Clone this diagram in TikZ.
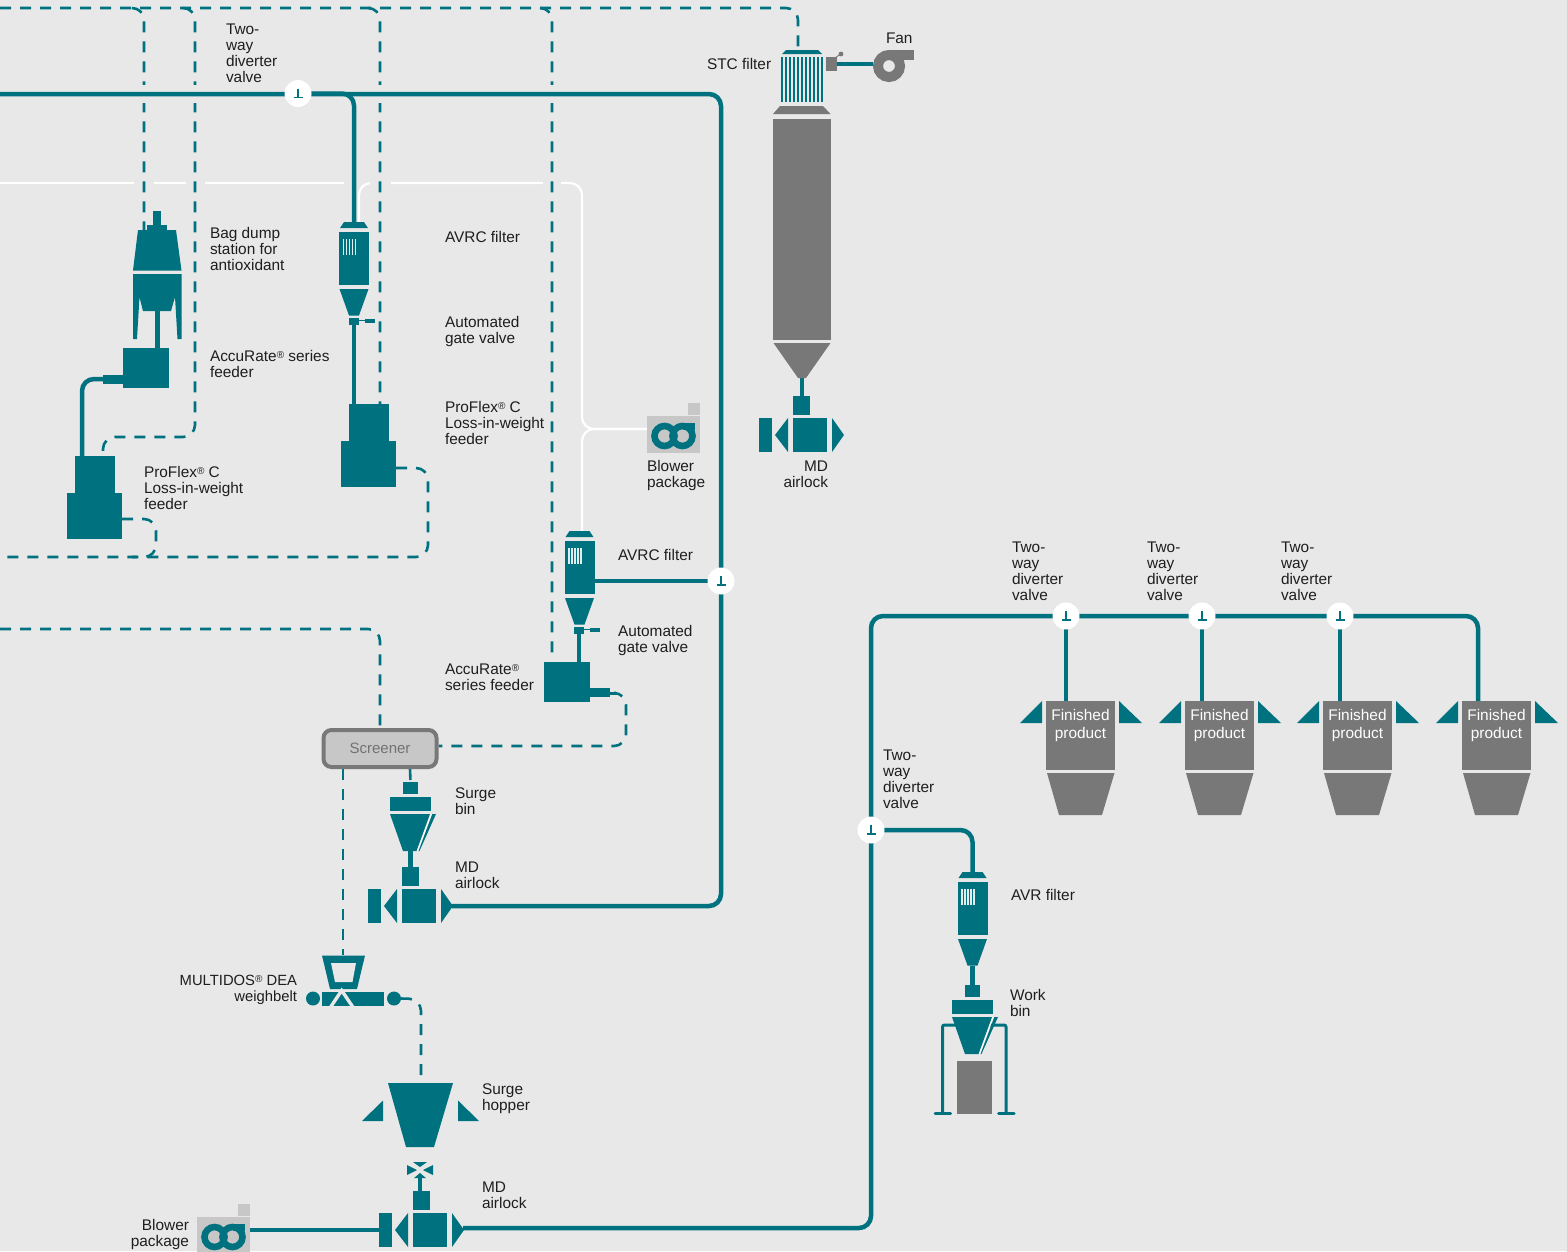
\documentclass[tikz,border=0pt]{standalone}
\usepackage{fontspec}
\setmainfont{Liberation Sans}
\usetikzlibrary{calc}
\definecolor{bgc}{HTML}{E8E8E8}
\definecolor{tealc}{HTML}{00727F}
\definecolor{grayc}{HTML}{787878}
\definecolor{lightg}{HTML}{C6C7C6}
\definecolor{textc}{HTML}{1E1E1E}
\pgfdeclarelayer{lines}
\pgfsetlayers{lines,main}
\newcommand{\regm}{\smash{\raisebox{3pt}{\fontsize{10pt}{10pt}\selectfont ®}}}
\tikzset{
  tealbox/.style={fill=tealc,inner sep=0pt,outer sep=0pt,draw=none},
  graybox/.style={fill=grayc,inner sep=0pt,outer sep=0pt,draw=none},
  lab/.style={inner sep=0pt,outer sep=0pt,align=left,anchor=north west,yshift=5.5pt,text=textc,
    font=\fontsize{15.4pt}{16pt}\selectfont,execute at begin node=\strut},
  labr/.style={lab,align=right,anchor=north east},
  mainline/.style={draw=tealc,line width=4.5pt,rounded corners=12pt},
  stemline/.style={draw=tealc,line width=4.5pt},
  dashline/.style={draw=tealc,line width=2.6pt,dash pattern=on 11pt off 9pt,rounded corners=12pt},
  whiteline/.style={draw=white,line width=2.2pt,rounded corners=12pt},
  avrc/.pic={
    \fill[tealc] (-10,0) -- (10,0) -- (14,6) -- (-14,6) -- cycle;
    \fill[tealc] (-15,10) rectangle (15,63);
    \foreach \i in {0,...,4} \draw[white!88!tealc,line width=1.4pt] ({-10.5+\i*3},17) -- ({-10.5+\i*3},33);
    \fill[tealc] (-14.5,67) -- (14.5,67) -- (5,93.5) -- (-5,93.5) -- cycle;
    \coordinate (-top) at (0,0);
    \coordinate (-bottom) at (0,93.5);
    \coordinate (-east) at (15,59);
  },
  gatevalve/.pic={
    \fill[tealc] (-5,0) rectangle (5,7);
    \draw[tealc,line width=1.2pt] (5,2.5) -- (12,2.5);
    \fill[tealc] (11,0.7) rectangle (21,5);
    \coordinate (-bottom) at (0,7);
  },
  airlock/.pic={
    \fill[tealc] (-17,0) rectangle (17,34);
    \fill[tealc] (-17,-22) rectangle (0,-3);
    \fill[tealc] (-22,0) -- (-35,17) -- (-22,34) -- cycle;
    \fill[tealc] (-51,0) rectangle (-38,34);
    \fill[tealc] (22,0) -- (34,17) -- (22,34) -- cycle;
    \coordinate (-top) at (-8.5,-22);
    \coordinate (-east) at (33,17);
    \coordinate (-west) at (-51,17);
  },
  surgebin/.pic={
    \fill[tealc] (-7.5,0) rectangle (7.5,12);
    \fill[tealc] (-20.5,15) rectangle (20.5,29);
    \fill[tealc] (-20.5,32) -- (19.5,32) -- (6,69) -- (-7.5,69) -- cycle;
    \draw[white,line width=1pt] (20.7,32) -- (7,69);
    \fill[tealc] (21.8,32) -- (25.5,32) -- (9,69) -- (8,69) -- cycle;
    \coordinate (-top) at (0,0);
    \coordinate (-bottom) at (0,69);
  },
  finished/.pic={
    \fill[grayc] (0,0) rectangle (69,69);
    \fill[grayc] (1,72) -- (68.5,72) -- (56,114) -- (13,114) -- cycle;
    \fill[tealc] (-26,22) -- (-4,22) -- (-4,0) -- cycle;
    \fill[tealc] (73,0) -- (73,22) -- (96,22) -- cycle;
    \node[lab,anchor=north,align=center,text=white,font=\fontsize{15.4pt}{18pt}\selectfont] (-label) at (34.5,14) {Finished\\product};
    \coordinate (-top) at (20,0);
  },
  blower/.pic={
    \fill[lightg] (0,0) rectangle (53,37);
    \fill[lightg] (41,-13) rectangle (53,-1);
    \draw[tealc,line width=6.6pt] (17.5,20) circle (10);
    \draw[tealc,line width=6.6pt] (35.5,20) circle (10);
    \fill[tealc] (36,6.5) rectangle (48,14);
    \coordinate (-west) at (0,13);
    \coordinate (-east) at (53,14);
  },
  divert/.pic={
    \node[circle,fill=white,inner sep=0pt,outer sep=0pt,minimum size=27pt] (-c) at (0,0) {};
    \draw[tealc,line width=1.8pt] (-4.5,4) -- (4.5,4);
    \draw[tealc,line width=1.8pt] (0,-5) -- (0,4);
  },
}
\begin{document}
\begin{tikzpicture}[x=1pt,y=-1pt]
\useasboundingbox (0,0) rectangle (1567,1251);

% ---------- equipment ----------
% bag dump
\node[tealbox,minimum width=46pt,minimum height=40pt] (feederA) at (146,368) {};
\fill[tealc] (153,211) rectangle (161,226);
\fill[tealc] (147,225) rectangle (167,231);
\fill[tealc] (138,230) -- (176,230) -- (181.5,270.5) -- (133,270.5) -- cycle;
\fill[tealc] (133,274) -- (181.5,274) -- (181.5,339) -- (177.5,339) -- (175,297) -- (171,311) -- (143,311) -- (139.5,297) -- (137,339) -- (133,339) -- cycle;
\coordinate (dumpbottom) at (157.5,311);
\coordinate (dumptop) at (144,230);
\fill[tealc] (103,375) rectangle (123,383.5);
\coordinate (feederAstub) at (104,379);

% left ProFlex feeder
\node[tealbox,minimum width=40pt,minimum height=38pt] (pfAtop) at (95,475) {};
\node[tealbox,minimum width=55pt,minimum height=46pt] (pfAlow) at (94.5,516) {};

% middle ProFlex feeder
\node[tealbox,minimum width=40pt,minimum height=38pt] (pfBtop) at (369,423) {};
\node[tealbox,minimum width=55pt,minimum height=46pt] (pfBlow) at (368.5,464) {};

% filters
\pic (filterA) at (354,222) {avrc};
\pic (valveA) at (354,318) {gatevalve};
\pic (filterB) at (579.5,531) {avrc};
\pic (valveB) at (579,627) {gatevalve};
\pic (filterC) at (972.5,872) {avrc};

% AccuRate feeder by filter B
\node[tealbox,minimum width=46pt,minimum height=40pt] (feederB) at (567,682) {};
\fill[tealc] (590,688) rectangle (610,697);
\fill[tealc] (610,691.5) rectangle (616,694.5);
\coordinate (feederBout) at (616,693);

% blowers
\pic (blowerA) at (647,416) {blower};
\pic (blowerB) at (197,1217) {blower};

% STC filter
\fill[tealc] (786,50) -- (818,50) -- (822,54) -- (782,54) -- cycle;
\coordinate (stctop) at (798,50);
\foreach \i in {0,...,10} \draw[tealc,line width=2.6pt] ({782+\i*4},57) -- ({782+\i*4},102);
\fill[grayc] (780,106) -- (823,106) -- (830.5,114) -- (773,114) -- cycle;
\fill[grayc] (773,119) rectangle (831,340);
\fill[grayc] (773.5,343) -- (830.5,343) -- (806,378) -- (798,378) -- cycle;
\coordinate (stcbottom) at (802,378);
\node[graybox,minimum width=11pt,minimum height=14pt] (stcvalve) at (831.5,64) {};
\draw[grayc,line width=1pt] (835,58) -- (840,54.5);
\fill[grayc] (841,54) circle (2.4);
\pic (airlockA) at (810,418) {airlock};

% fan
\node[circle,draw=grayc,line width=10pt,inner sep=0pt,minimum size=22pt] (fan) at (889,66) {};
\fill[grayc] (889,50) rectangle (914,60);

% screener
\node[draw=grayc,fill=lightg,line width=4pt,rounded corners=8pt,minimum width=113pt,minimum height=37pt,inner sep=0pt,
  text=grayc!95!black,font=\fontsize{15pt}{16pt}\selectfont] (screener) at (380,748.5) {Screener};

% surge bin
\pic (binA) at (410.5,782) {surgebin};
\pic (airlockB) at (419,889) {airlock};

% weighbelt
\fill[tealc] (322,955.5) -- (365,955.5) -- (357,989) -- (330,989) -- cycle;
\fill[bgc] (331,963) -- (356,963) -- (352.5,982) -- (335,982) -- cycle;
\coordinate (weightop) at (343,955);
\node[tealbox,minimum width=62pt,minimum height=14pt] (belt) at (353,999) {};
\draw[bgc,line width=3.4pt] (330,1008) -- (341.7,990.5) -- (353.5,1008);
\fill[bgc] (336,1006.5) rectangle (348,1007.5);
\node[circle,tealbox,minimum size=14pt] (wheelL) at (313,998.5) {};
\node[circle,tealbox,minimum size=14pt] (wheelR) at (394,998.5) {};

% surge hopper
\fill[tealc] (388,1083) -- (453,1083) -- (434,1147) -- (406,1147) -- cycle;
\fill[tealc] (362,1121) -- (383,1121) -- (383,1100.5) -- cycle;
\fill[tealc] (458,1100.5) -- (458,1121) -- (479,1121) -- cycle;
\fill[tealc] (413,1162) -- (427,1162) -- (420,1167) -- cycle;
\fill[tealc] (407,1165) -- (407,1175) -- (417,1170) -- cycle;
\fill[tealc] (433,1165) -- (433,1175) -- (423,1170) -- cycle;
\fill[tealc] (414,1178) -- (426,1178) -- (420,1173) -- cycle;
\coordinate (hvalve) at (420,1176);
\coordinate (hoppertop) at (421,1075);
\pic (airlockC) at (430,1213) {airlock};

% work bin
\fill[grayc] (957,1061) rectangle (992,1114);
\pic (binB) at (972.5,985) {surgebin};

% finished product silos
\pic (finA) at (1046,701) {finished};
\pic (finB) at (1185,701) {finished};
\pic (finC) at (1323,701) {finished};
\pic (finD) at (1462,701) {finished};
\coordinate (finDin) at (1478,701);

% diverters
\pic (d1) at (298,93.5) {divert};
\pic (d2) at (721,581) {divert};
\pic (d3) at (1066,616) {divert};
\pic (d4) at (1202,616) {divert};
\pic (d5) at (1340,616) {divert};
\pic (d6) at (871,830) {divert};

% ---------- free ends and corners ----------
\coordinate (Ltop) at (0,94);
\coordinate (Lwhite) at (0,183);
\coordinate (Lwhiteend) at (344,183);
\coordinate (Ldash) at (0,8);
\coordinate (Ldashtwo) at (0,557);
\coordinate (Ldashthree) at (0,629);

% ---------- connectors (under the equipment) ----------
\begin{pgfonlayer}{lines}
\fill[bgc] (0,0) rectangle (1567,1251);
% white air lines
\draw[whiteline] (Lwhite) -- (Lwhiteend);
\draw[whiteline] (359,222) -- (359,183) -- (582,183) -- (582,429) -- (blowerA-west);
\draw[whiteline] (582,531) -- (582,429) -- (blowerA-west);
\fill[bgc] (134,180) rectangle (154,186);
\fill[bgc] (186,180) rectangle (205,186);
\fill[bgc] (370,180) rectangle (391,186);
\fill[bgc] (543,180) rectangle (561,186);
% dashed lines
\draw[dashline] (Ldash) -- (798,8) -- (stctop);
\draw[dashline] (132,8) -- (144,8) -- (dumptop);
\draw[dashline] (183,8) -- (195,8) -- (195,437) -- (103,437) -- (103,456);
\draw[dashline] (368,8) -- (380,8) -- (380,404);
\draw[dashline] (540,8) -- (552,8) -- (552,658);
\draw[dashline] (pfAlow.east |- 122,519) -- (156,519) -- (156,557) -- (132,557);
\draw[dashline] (pfBlow.east |- 396,468) -- (428,468) -- (428,557) -- (Ldashtwo);
\draw[dashline] (feederBout) -- (626,693) -- (626,746) -- (screener.east |- 438,746);
\draw[dashline] (Ldashthree) -- (380,629) -- (380,729);
\draw[dashline] (343,769) -- (weightop);
\draw[dashline] (410,769) -- (binA-top);
\draw[dashline] (wheelR.east) -- (421,999) -- (hoppertop);
% gaps at the main line
\fill[bgc] (140,85) rectangle (148,103);
\fill[bgc] (191,85) rectangle (199,103);
\fill[bgc] (376,85) rectangle (384,103);
\fill[bgc] (548,85) rectangle (556,103);
% main conveying lines
\draw[mainline] (Ltop) -- (721,94) -- (721,906) -- (airlockB-east);
\draw[mainline] (d1-c.center) -| (filterA-top);
\draw[mainline] (d2-c.center) -- (d2-c.center -| filterB-east);
\draw[mainline] ($(airlockC-east)+(0,-2)$) -- (871,1228) -- (871,616) -- (1478,616) -- (finDin);
\draw[mainline] (d3-c.center) -- (d3-c.center |- finA-top);
\draw[mainline] (d4-c.center) -- (d4-c.center |- finB-top);
\draw[mainline] (d5-c.center) -- (d5-c.center |- finC-top);
\draw[mainline] (d6-c.center) -| (filterC-top);
\draw[mainline] (airlockC-west -| blowerB-east) -- (airlockC-west);
\draw[mainline] (stcvalve.east) -- (fan.west |- stcvalve.east);
% stems and left feed
\draw[stemline] (dumpbottom) -- (dumpbottom |- feederA.north);
\draw[mainline] (feederAstub) -- (82,379) -- (82,456);
\draw[stemline] (valveA-bottom) -- (valveA-bottom |- pfBtop.north);
\draw[stemline] (valveB-bottom) -- (valveB-bottom |- feederB.north);
\draw[stemline] (stcbottom) -- (stcbottom |- airlockA-top);
\draw[stemline] (binA-bottom) -- (airlockB-top);
\draw[stemline] (filterC-bottom) -- (binB-top);
\draw[stemline,line width=4pt] (hvalve) -- (hvalve |- airlockC-top);
% work-bin frame
\draw[tealc,line width=3pt,rounded corners=2pt] (942.5,1113.5) -- (942.5,1025) -- (958,1025);
\draw[tealc,line width=3pt,rounded corners=2pt] (1006,1113.5) -- (1006,1025) -- (990,1025);
\draw[tealc,line width=3pt,line cap=round] (935,1113.5) -- (950.5,1113.5);
\draw[tealc,line width=3pt,line cap=round] (998.5,1113.5) -- (1014,1113.5);
\end{pgfonlayer}

% ---------- labels ----------
\node[lab] (tA) at (226,29.5) {Two-\\way\\diverter\\valve};
\node[lab] (tB) at (210,233) {Bag dump\\station for\\antioxidant};
\node[lab] (tC) at (210,356) {AccuRate\regm{} series\\feeder};
\node[lab] (tD) at (445,237) {AVRC filter};
\node[lab] (tE) at (445,322) {Automated\\gate valve};
\node[lab] (tF) at (445,407) {ProFlex\regm{} C\\Loss-in-weight\\feeder};
\node[lab] (tG) at (144,472) {ProFlex\regm{} C\\Loss-in-weight\\feeder};
\node[lab] (tH) at (707,64) {STC filter};
\node[lab] (tI) at (886,38) {Fan};
\node[labr] (tJ) at (828,466.5) {MD\\airlock};
\node[lab] (tK) at (647,466) {Blower\\package};
\node[lab] (tL) at (618,555) {AVRC filter};
\node[lab] (tM) at (618,631) {Automated\\gate valve};
\node[lab] (tN) at (445,669) {AccuRate\regm\\series feeder};
\node[lab] (tO) at (455,793) {Surge\\bin};
\node[lab] (tP) at (455,867) {MD\\airlock};
\node[labr,font=\fontsize{14.8pt}{16pt}\selectfont] (tQ) at (297,981) {MULTIDOS\regm{} DEA\\weighbelt};
\node[lab] (tR) at (482,1089) {Surge\\hopper};
\node[lab] (tS) at (482,1187) {MD\\airlock};
\node[labr] (tT) at (189,1225) {Blower\\package};
\node[lab] (tU) at (1012,547.5) {Two-\\way\\diverter\\valve};
\node[lab] (tV) at (1147,547.5) {Two-\\way\\diverter\\valve};
\node[lab] (tW) at (1281,547.5) {Two-\\way\\diverter\\valve};
\node[lab] (tX) at (883,755.5) {Two-\\way\\diverter\\valve};
\node[lab] (tY) at (1011,895) {AVR filter};
\node[lab] (tZ) at (1010,995) {Work\\bin};
\end{tikzpicture}
\end{document}
